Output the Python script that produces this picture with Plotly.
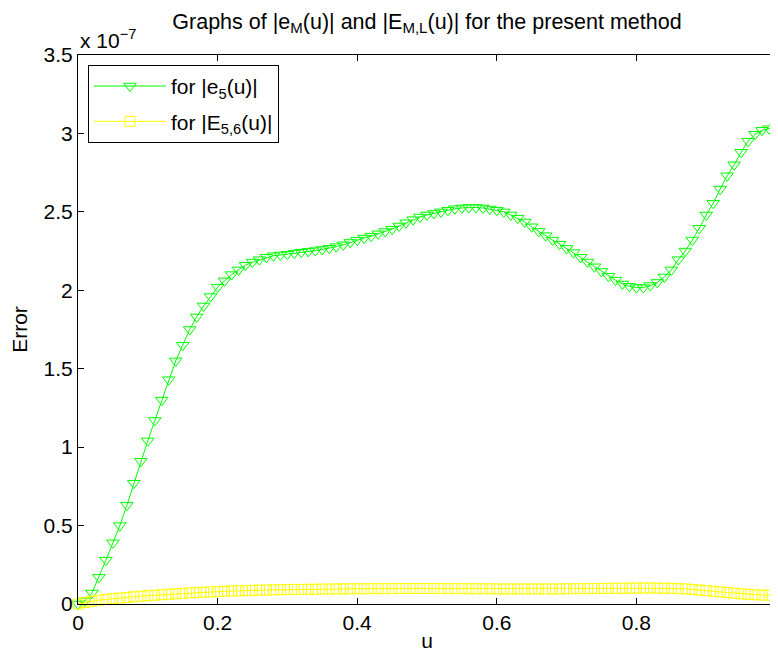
import plotly.graph_objects as go

u_vals = [i / 100 for i in range(101)]

# |e_5(u)| in units of 1e-7
e5_err = [
    0.00, 0.02, 0.07, 0.17, 0.28, 0.39, 0.50, 0.63, 0.77, 0.91,
    1.04, 1.17, 1.30, 1.43, 1.55, 1.65, 1.75, 1.83, 1.90, 1.96,
    2.02, 2.06, 2.10, 2.13, 2.16, 2.18, 2.195, 2.21, 2.22, 2.225,
    2.23, 2.237, 2.243, 2.248, 2.253, 2.26, 2.268, 2.278, 2.29, 2.305,
    2.32, 2.333, 2.345, 2.36, 2.375, 2.39, 2.41, 2.43, 2.45, 2.467,
    2.48, 2.49, 2.50, 2.51, 2.52, 2.525, 2.528, 2.528, 2.525, 2.518,
    2.51, 2.50, 2.48, 2.46, 2.435, 2.405, 2.375, 2.348, 2.32, 2.294,
    2.267, 2.24, 2.21, 2.18, 2.15, 2.12, 2.09, 2.065, 2.04, 2.025,
    2.017, 2.017, 2.03, 2.05, 2.085, 2.13, 2.195, 2.25, 2.32, 2.395,
    2.48, 2.555, 2.645, 2.73, 2.80, 2.88, 2.95, 2.995, 3.02, 3.03,
    3.04,
]

# |E_{5,6}(u)| in units of 1e-7
E56_err = [
    0.000, 0.010, 0.018, 0.025, 0.030, 0.034, 0.038, 0.042, 0.046, 0.050,
    0.053, 0.056, 0.059, 0.062, 0.065, 0.068, 0.071, 0.073, 0.075, 0.077,
    0.079, 0.081, 0.083, 0.084, 0.085, 0.087, 0.088, 0.089, 0.090, 0.091,
    0.092, 0.093, 0.093, 0.094, 0.094, 0.095, 0.095, 0.096, 0.096, 0.097,
    0.097, 0.097, 0.098, 0.098, 0.098, 0.098, 0.099, 0.099, 0.099, 0.099,
    0.099, 0.099, 0.098, 0.098, 0.098, 0.098, 0.097, 0.097, 0.097, 0.097,
    0.096, 0.096, 0.096, 0.096, 0.096, 0.096, 0.096, 0.096, 0.096, 0.096,
    0.097, 0.097, 0.098, 0.098, 0.099, 0.099, 0.100, 0.100, 0.101, 0.101,
    0.102, 0.102, 0.102, 0.101, 0.101, 0.100, 0.098, 0.096, 0.093, 0.089,
    0.085, 0.081, 0.077, 0.073, 0.069, 0.065, 0.062, 0.059, 0.057, 0.056,
    0.055,
]

x_ticks = [0, 0.2, 0.4, 0.6, 0.8, 1]
x_tick_labels = ["0", "0.2", "0.4", "0.6", "0.8", "1"]
y_ticks = [0, 0.5, 1, 1.5, 2, 2.5, 3, 3.5]
y_tick_labels = ["0", "0.5", "1", "1.5", "2", "2.5", "3", "3.5"]

FONT = "Liberation Sans, Arial, Helvetica, sans-serif"

fig = go.Figure()
fig.add_trace(go.Scatter(
    x=u_vals, y=e5_err, mode="lines+markers",
    name="for |e<sub>5</sub>(u)|", legendgroup="g1",
    line=dict(color="#00ff00", width=1),
    marker=dict(symbol="triangle-down-open", size=11, color="#00ff00",
                line=dict(color="#00ff00", width=1)),
    cliponaxis=False,
))
fig.add_trace(go.Scatter(
    x=u_vals, y=E56_err, mode="lines+markers",
    name="for |E<sub>5,6</sub>(u)|", legendgroup="g2",
    line=dict(color="#ffff00", width=1),
    marker=dict(symbol="square-open", size=10, color="#ffff00",
                line=dict(color="#ffff00", width=1)),
    cliponaxis=False,
))

axis_common = dict(
    showgrid=False, zeroline=False, showline=True, linecolor="black",
    linewidth=1, mirror="allticks", ticks="inside", ticklen=6,
    tickcolor="black", automargin=False, ticklabeloverflow="allow",
    tickfont=dict(family=FONT, size=21, color="black"),
)

# The page body adds an 8px margin, so the figure is sized to fit the window.
fig.update_layout(
    width=770, height=650,
    margin=dict(l=70, r=2, t=47, b=54),
    paper_bgcolor="white", plot_bgcolor="white",
    font=dict(family=FONT, size=21, color="black"),
    title=dict(
        text="Graphs of |e<sub>M</sub>(u)| and |E<sub>M,L</sub>(u)| for the present method",
        x=0.5, xref="paper", xanchor="center",
        y=1 - 13 / 650, yanchor="middle",
        font=dict(family=FONT, size=21.5, color="black"),
    ),
    xaxis=dict(range=[0, 1], tickvals=x_ticks, ticktext=x_tick_labels,
               title=dict(text="u", standoff=0,
                          font=dict(family=FONT, size=21)),
               **axis_common),
    yaxis=dict(range=[0, 3.5], tickvals=y_ticks, ticktext=y_tick_labels,
               title=dict(text="Error", standoff=10,
                          font=dict(family=FONT, size=21)),
               **axis_common),
    legend=dict(
        x=0.0143, y=0.982, xanchor="left", yanchor="top",
        bgcolor="white", bordercolor="black", borderwidth=1,
        font=dict(family=FONT, size=21, color="black"),
        traceorder="grouped", tracegroupgap=5, itemwidth=72,
    ),
    showlegend=True,
    annotations=[dict(
        text="x 10<sup>−7</sup>", xref="paper", yref="paper",
        x=0, y=1, xanchor="left", yanchor="bottom", yshift=1,
        showarrow=False, font=dict(family=FONT, size=21, color="black"),
    )],
)

fig.write_html("out.html")
